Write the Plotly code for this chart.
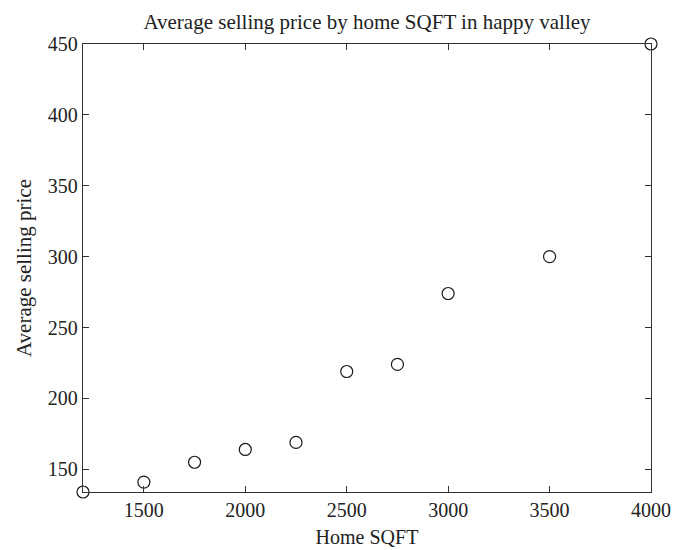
import plotly.graph_objects as go

# Average selling price by home size
sqft = [1200, 1500, 1750, 2000, 2250, 2500, 2750, 3000, 3500, 4000]
price = [134, 141, 155, 164, 169, 219, 224, 274, 300, 450]

x_ticks = [1500, 2000, 2500, 3000, 3500, 4000]
y_ticks = [150, 200, 250, 300, 350, 400, 450]

font = "Liberation Serif"
ink = "#222222"

fig = go.Figure(
    go.Scatter(
        x=sqft,
        y=price,
        mode="markers",
        marker=dict(symbol="circle-open", size=12, color="#1a1a1a", line=dict(width=1.2)),
        cliponaxis=False,
    )
)

axis_common = dict(
    showgrid=False,
    zeroline=False,
    showline=True,
    linecolor="#333333",
    linewidth=1.3,
    mirror="ticks",
    ticks="inside",
    ticklen=6,
    tickwidth=1,
    tickcolor="#333333",
    tickfont=dict(family=font, size=20, color=ink),
    automargin=False,
)

fig.update_xaxes(
    range=[1200, 4000],
    tickvals=x_ticks,
    title=dict(text="Home SQFT", font=dict(family=font, size=20, color=ink), standoff=9),
    **axis_common,
)
fig.update_yaxes(
    range=[134, 450],
    tickvals=y_ticks,
    title=dict(text="Average selling price", font=dict(family=font, size=21, color=ink), standoff=10),
    **axis_common,
)

fig.update_layout(
    width=673,
    height=550,
    margin=dict(l=83, r=22, t=44, b=58, autoexpand=False),
    paper_bgcolor="white",
    plot_bgcolor="white",
    showlegend=False,
    title=dict(
        text="Average selling price by home SQFT in happy valley",
        font=dict(family=font, size=21, color=ink),
        xref="paper",
        x=0.5,
        xanchor="center",
        yref="container",
        y=1 - 22 / 550,
        yanchor="middle",
        automargin=False,
    ),
)

fig.write_html("out.html")
